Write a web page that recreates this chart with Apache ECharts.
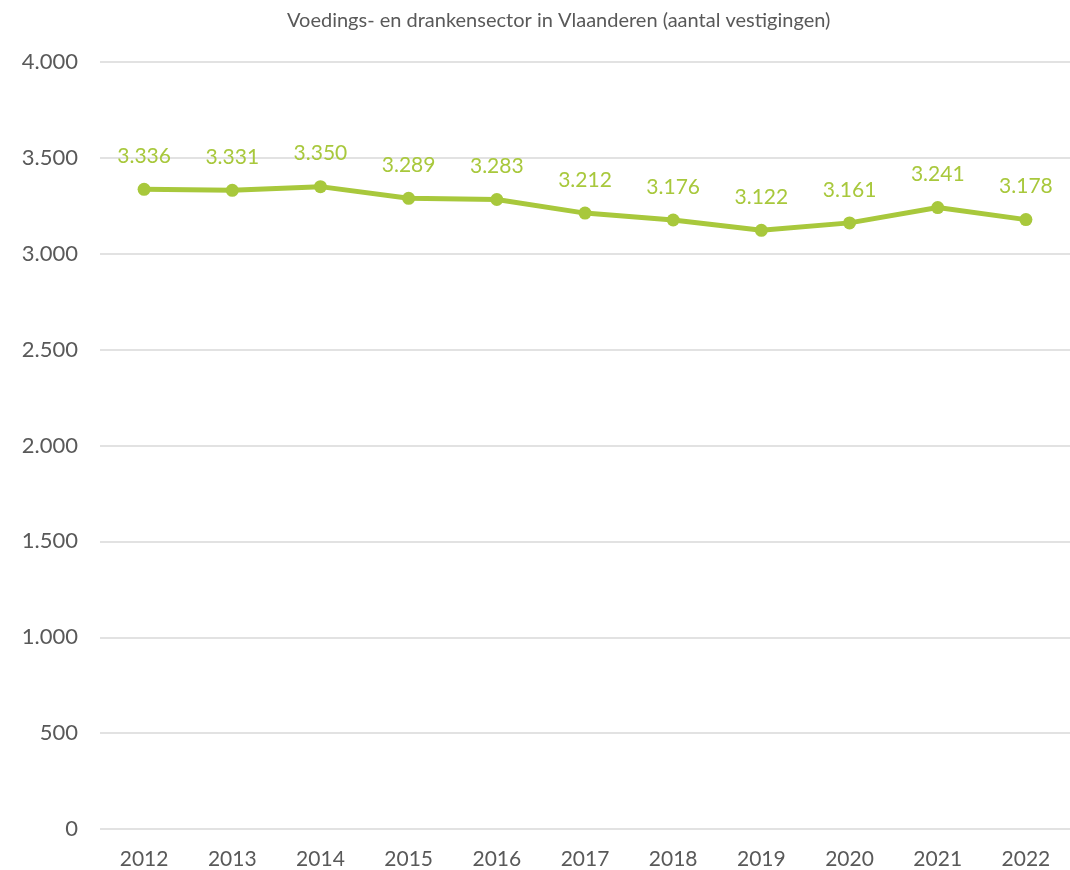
<!DOCTYPE html>
<html><head><meta charset="utf-8">
<script src="https://cdn.jsdelivr.net/npm/echarts@6/dist/echarts.min.js"></script>
<style>html,body{margin:0;padding:0;background:#fff}#c{width:1070px;height:870px}</style>
</head><body><div id="c"></div>
<script>
const title = 'Voedings- en drankensector in Vlaanderen (aantal vestigingen)';
const years = ['2012','2013','2014','2015','2016','2017','2018','2019','2020','2021','2022'];
const vestigingen = [3336,3331,3350,3289,3283,3212,3176,3122,3161,3241,3178];
const fmt = v => String(v).replace(/\B(?=(\d{3})+(?!\d))/g, '.');
const F = 'Lato';
const chart = echarts.init(document.getElementById('c'));
chart.setOption({
  animation:false,
  title:{text:title,left:282,top:6,textStyle:{fontFamily:F,fontSize:20,fontWeight:'normal',color:'#595959'}},
  grid:{left:100,right:0,top:62,bottom:41,containLabel:false},
  xAxis:{type:'category',data:years,boundaryGap:true,
    axisLine:{show:false},axisTick:{show:false},
    axisLabel:{fontFamily:F,fontSize:21,color:'#595959',margin:20}},
  yAxis:{type:'value',min:0,max:4000,interval:500,
    axisLine:{show:false},axisTick:{show:false},
    splitLine:{lineStyle:{color:'#d9d9d9',width:1.5}},
    axisLabel:{fontFamily:F,fontSize:22,color:'#595959',margin:22,formatter:fmt}},
  series:[{type:'line',data:vestigingen,symbol:'circle',symbolSize:13,
    lineStyle:{color:'#a8c83c',width:5},itemStyle:{color:'#a8c83c'},
    label:{show:true,position:'top',distance:16,fontFamily:F,fontSize:21,color:'#a8c83c',formatter:p=>fmt(p.value)}}]
});
</script></body></html>
